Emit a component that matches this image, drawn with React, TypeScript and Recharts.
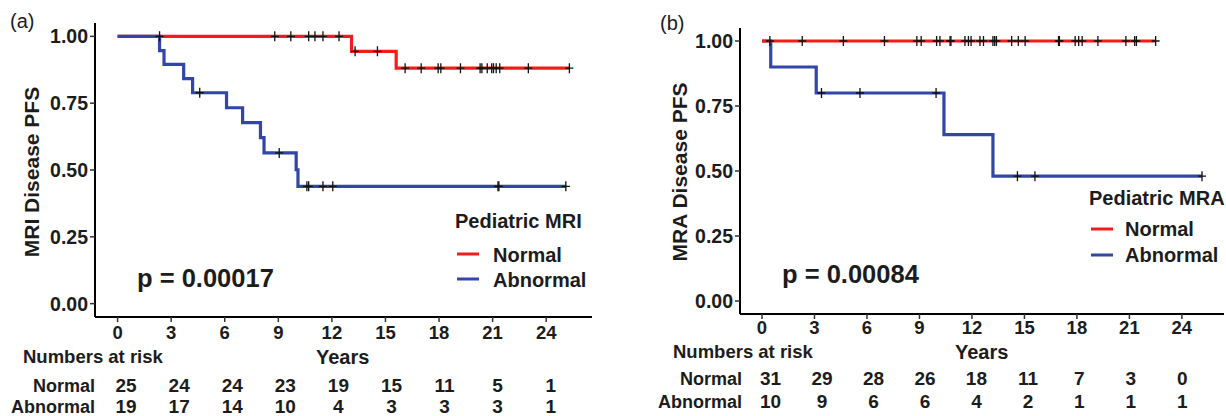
import { ComposedChart, Line, Scatter, XAxis, YAxis } from 'recharts'

const FONT = '"Liberation Sans", Arial, Helvetica, sans-serif'
const INK = '#1c1c1c'
const RED = '#f31c1c'
const BLUE = '#3245a8'

const YEAR_TICKS = [0, 3, 6, 9, 12, 15, 18, 21, 24]
const PFS_TICKS = [0, 0.25, 0.5, 0.75, 1]

// (a) pediatric MRI
const mriNormalTimes = [0, 13.1, 15.6, 25.3]
const mriNormalSurv = [1, 0.944, 0.881, 0.881]
const mriNormalCensor = [2.35, 8.8, 9.7, 10.7, 11.05, 11.5, 12.4, 13.3, 14.55, 16.1, 17.0, 17.95, 18.1, 19.2, 20.3, 20.4, 20.7, 20.95, 21.05, 21.2, 21.4, 23.0, 25.3]
const mriAbnTimes = [0, 2.35, 2.6, 3.7, 4.2, 6.1, 7.0, 8.0, 8.2, 10.0, 10.1, 25.1]
const mriAbnSurv = [1, 0.947, 0.895, 0.842, 0.789, 0.733, 0.677, 0.621, 0.564, 0.501, 0.439, 0.439]
const mriAbnCensor = [4.6, 9.05, 10.6, 10.7, 11.5, 12.05, 21.3, 21.35, 25.1]
const mriRiskNormal = [25, 24, 24, 23, 19, 15, 11, 5, 1]
const mriRiskAbn = [19, 17, 14, 10, 4, 3, 3, 3, 1]

// (b) pediatric MRA
const mraNormalTimes = [0, 22.5]
const mraNormalSurv = [1, 1]
const mraNormalCensor = [0.45, 2.3, 4.65, 7.0, 8.85, 9.1, 9.98, 10.17, 10.75, 10.8, 11.6, 11.8, 11.95, 12.46, 12.66, 13.2, 13.3, 13.4, 14.27, 14.65, 15.04, 16.95, 17.0, 17.9, 18.1, 18.3, 19.2, 20.8, 21.3, 21.4, 22.5]
const mraAbnTimes = [0, 0.5, 3.1, 10.4, 13.2, 25.15]
const mraAbnSurv = [1, 0.9, 0.8, 0.64, 0.48, 0.48]
const mraAbnCensor = [3.4, 5.6, 9.95, 14.6, 15.6, 25.15]
const mraRiskNormal = [31, 29, 28, 26, 18, 11, 7, 3, 0]
const mraRiskAbn = [10, 9, 6, 6, 4, 2, 1, 1, 1]

const steps = (times: number[], surv: number[]) => times.map((t, i) => ({ t, s: surv[i] }))

// censor marks sit on the curve: take the survival of the last step at or before t
const marks = (censor: number[], times: number[], surv: number[]) =>
  censor.map((t) => {
    let s = surv[0]
    times.forEach((tt, i) => { if (tt <= t) s = surv[i] })
    return { t, s }
  })

const Plus = (p: any) => (
  <path d={`M${p.cx - 4},${p.cy}H${p.cx + 4}M${p.cx},${p.cy - 5}V${p.cy + 5}`} stroke="#111" strokeWidth={1.3} fill="none" />
)

const txt = { fontFamily: FONT, fontWeight: 700, fill: INK }

function Panel(props: any) {
  const { w, margin, xh, domain, normal, abn, normalCensor, abnCensor, riskN, riskA, dy, dxStep, blueFirst } = props
  const tick = (p: any) => {
    const i = YEAR_TICKS.indexOf(p.payload.value)
    const dx = 8.5 - i * dxStep
    return (
      <g>
        <text x={p.x} y={p.y + dy[0]} textAnchor="middle" fontSize={18.5} {...txt}>{p.payload.value}</text>
        <text x={p.x + dx} y={p.y + dy[1]} textAnchor="middle" fontSize={19} {...txt}>{riskN[i]}</text>
        <text x={p.x + dx} y={p.y + dy[2]} textAnchor="middle" fontSize={19} {...txt}>{riskA[i]}</text>
      </g>
    )
  }
  const red = <Line key="r" data={normal} dataKey="s" type="stepAfter" stroke={RED} strokeWidth={3.2} dot={false} isAnimationActive={false} />
  const blue = <Line key="b" data={abn} dataKey="s" type="stepAfter" stroke={BLUE} strokeWidth={3.2} dot={false} isAnimationActive={false} />
  return (
    <ComposedChart width={w} height={416} margin={margin}>
      <XAxis dataKey="t" type="number" domain={domain} allowDataOverflow ticks={YEAR_TICKS} interval={0}
        height={xh} tickSize={5} tickMargin={2} tick={tick}
        axisLine={{ stroke: '#000', strokeWidth: 2 }} tickLine={{ stroke: '#333', strokeWidth: 1.5 }} />
      <YAxis dataKey="s" type="number" domain={[-0.05, 1.05]} allowDataOverflow ticks={PFS_TICKS} interval={0}
        width={60} tickSize={5} tickMargin={2} tickFormatter={(v: number) => v.toFixed(2)}
        tick={{ fontSize: 19.5, ...txt }}
        axisLine={{ stroke: '#000', strokeWidth: 2 }} tickLine={{ stroke: '#333', strokeWidth: 1.5 }} />
      {blueFirst ? [blue, red] : [red, blue]}
      <Scatter data={normalCensor} shape={Plus} isAnimationActive={false} />
      <Scatter data={abnCensor} shape={Plus} isAnimationActive={false} />
    </ComposedChart>
  )
}

export default function App() {
  return (
    <div style={{ position: 'absolute', left: 0, top: 0, width: 1226, height: 416, background: '#fff' }}>
      <div style={{ position: 'absolute', left: 0, top: 0 }}>
        <Panel w={613} margin={{ top: 23, right: 21, bottom: 0, left: 35 }} xh={99}
          domain={[-1.265, 26.565]}
          normal={steps(mriNormalTimes, mriNormalSurv)} abn={steps(mriAbnTimes, mriAbnSurv)}
          normalCensor={marks(mriNormalCensor, mriNormalTimes, mriNormalSurv)}
          abnCensor={marks(mriAbnCensor, mriAbnTimes, mriAbnSurv)}
          riskN={mriRiskNormal} riskA={mriRiskAbn} dy={[15, 68, 89]} dxStep={0.5} />
      </div>
      <div style={{ position: 'absolute', left: 613, top: 0 }}>
        <Panel w={613} margin={{ top: 28, right: 2, bottom: 0, left: 67 }} xh={102}
          domain={[-1.2575, 26.4075]}
          normal={steps(mraNormalTimes, mraNormalSurv)} abn={steps(mraAbnTimes, mraAbnSurv)}
          normalCensor={marks(mraNormalCensor, mraNormalTimes, mraNormalSurv)}
          abnCensor={marks(mraAbnCensor, mraAbnTimes, mraAbnSurv)}
          riskN={mraRiskNormal} riskA={mraRiskAbn} dy={[13, 64, 87]} dxStep={1} blueFirst />
      </div>
      <svg width={1226} height={416} style={{ position: 'absolute', left: 0, top: 0, pointerEvents: 'none' }}>
        <text x={10} y={28} fontSize={20} fontFamily={FONT} fill={INK}>(a)</text>
        <text transform="translate(38.5,172) rotate(-90)" textAnchor="middle" fontSize={21} {...txt}>MRI Disease PFS</text>
        <text x={137} y={287} fontSize={25.5} {...txt}>p = 0.00017</text>
        <text x={455} y={228} fontSize={20} {...txt}>Pediatric MRI</text>
        <line x1={457} x2={479} y1={254} y2={254} stroke={RED} strokeWidth={3} />
        <line x1={457} x2={479} y1={279} y2={279} stroke={BLUE} strokeWidth={3} />
        <text x={493} y={262} fontSize={20} {...txt}>Normal</text>
        <text x={493} y={287} fontSize={20} {...txt}>Abnormal</text>
        <text x={23} y={363} fontSize={18.5} {...txt}>Numbers at risk</text>
        <text x={316} y={364} fontSize={20} {...txt}>Years</text>
        <text x={95} y={392} textAnchor="end" fontSize={18} {...txt}>Normal</text>
        <text x={95} y={413} textAnchor="end" fontSize={18} {...txt}>Abnormal</text>

        <text x={660} y={30} fontSize={20} fontFamily={FONT} fill={INK}>(b)</text>
        <text transform="translate(687,172) rotate(-90)" textAnchor="middle" fontSize={21} {...txt}>MRA Disease PFS</text>
        <text x={782} y={283} fontSize={25.5} {...txt}>p = 0.00084</text>
        <text x={1089} y={205} fontSize={20} {...txt}>Pediatric MRA</text>
        <line x1={1091} x2={1113} y1={229} y2={229} stroke={RED} strokeWidth={3} />
        <line x1={1091} x2={1113} y1={255} y2={255} stroke={BLUE} strokeWidth={3} />
        <text x={1125} y={236} fontSize={20} {...txt}>Normal</text>
        <text x={1125} y={262} fontSize={20} {...txt}>Abnormal</text>
        <text x={673} y={358} fontSize={18.5} {...txt}>Numbers at risk</text>
        <text x={955} y={359} fontSize={20} {...txt}>Years</text>
        <text x={742} y={385} textAnchor="end" fontSize={18} {...txt}>Normal</text>
        <text x={742} y={408} textAnchor="end" fontSize={18} {...txt}>Abnormal</text>
      </svg>
    </div>
  )
}
